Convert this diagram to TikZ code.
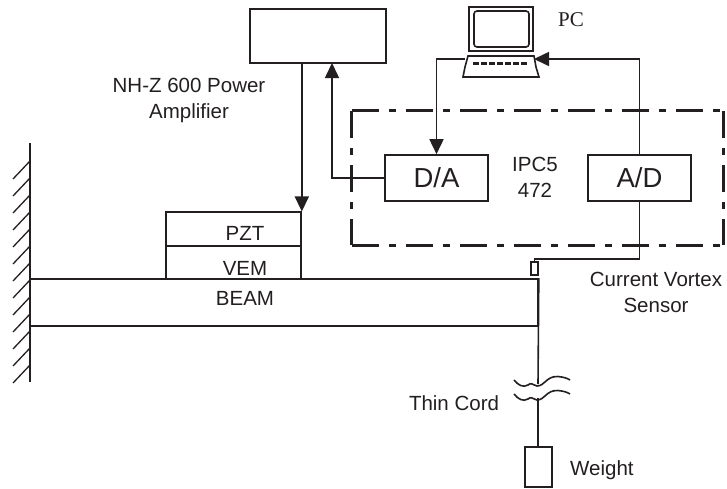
\documentclass[tikz,border=0pt]{standalone}
\usepackage{fontspec}
\setmainfont{Liberation Sans}
\newfontfamily\pcfont{Liberation Serif}
\usetikzlibrary{arrows.meta}
\definecolor{ink}{HTML}{231F20}
\tikzset{
  line/.style={ink,line width=1.6pt},
  arrow/.style={line,-{Triangle[length=15pt,width=14pt]}},
  unit/.style={line,draw,inner sep=0pt,font=\fontsize{27.5}{30}\selectfont},
  label/.style={text=ink,inner sep=0pt,font=\fontsize{20.5}{26}\selectfont,align=center},
  ipcline/.style={ink,line width=3.3pt,dash pattern=on 27pt off 10.5pt on 6.5pt off 10pt}
}

\begin{document}
\begin{tikzpicture}[x=1pt,y=-1pt]
  \useasboundingbox (0,0) rectangle (727,488);
  % amplifier and interface card
  \node[unit,minimum width=136pt,minimum height=54pt] (amp) at (318,36) {};
  \node[minimum width=371pt,minimum height=134pt,inner sep=0pt] (ipc) at (537.5,178) {};
  \node[unit,minimum width=103pt,minimum height=46pt] (da) at (436.5,178) {D/A};
  \node[unit,minimum width=103pt,minimum height=46pt] (ad) at (639.5,178) {A/D};
  \draw[ipcline] (ipc.north west) -- (ipc.north east);
  \draw[ipcline] (ipc.south west) -- (ipc.south east);
  \draw[ipcline] (ipc.north west) -- (ipc.south west);
  \draw[ipcline] (ipc.north east) -- (ipc.south east);
  % computer
  \node[line,draw,minimum width=64pt,minimum height=44pt,inner sep=0pt] (monitor) at (501,29) {};
  \node[line,draw,rounded corners=3pt,minimum width=55pt,minimum height=36pt,inner sep=0pt] (screen) at (501.5,29) {};
  \coordinate (kbl) at (465,67);
  \coordinate (kbr) at (536,67);
  \draw[line] (468,56) -- (534,56) -- (kbr) -- (539,77) -- (463,77) -- (kbl) -- cycle;
  \draw[ink,line width=3pt,dash pattern=on 6pt off 2pt] (473,63.5) -- (528,63.5);
  % beam, layers and wall
  \coordinate (wtop) at (30,143);
  \coordinate (wbot) at (30,382);
  \draw[line] (wtop) -- (wbot);
  \foreach \y in {161,178,...,366}
    \draw[ink,line width=1.3pt] (30,\y) -- (13,\y+18);
  \node[line,draw,minimum width=508pt,minimum height=47pt,inner sep=0pt] (beam) at (284,302.5) {};
  \node[line,draw,minimum width=135pt,minimum height=33.5pt,inner sep=0pt] (vem) at (233.5,262.5) {};
  \node[line,draw,minimum width=135pt,minimum height=33.5pt,inner sep=0pt] (pzt) at (233.5,229) {};
  \node[label] (beamtext) at (245,298) {BEAM};
  \node[label] (vemtext) at (245,268) {VEM};
  \node[label] (pzttext) at (245,233) {PZT};
  % signal lines
  \draw[arrow] (amp.south -| pzt.east) -- (pzt.north east);
  \draw[arrow] (da.west) -| (332,63);
  \draw[arrow] (kbl |- 0,59) -| (da.north);
  \draw[arrow] (ad.north) |- (534,59);
  \node[line,draw,minimum width=7pt,minimum height=13pt,inner sep=0pt] (sensor) at (534.5,268.5) {};
  \draw[line] (ad.south) |- (534.5,259) -- (sensor.north);
  % cord and weight
  \node[line,draw,minimum width=27pt,minimum height=40pt,inner sep=0pt] (weight) at (538.5,467) {};
  \coordinate (cordtop) at (538,384);
  \coordinate (cordbot) at (538,398);
  \draw[line] (beam.north east) -- (cordtop);
  \draw[line] (cordbot) -- (cordbot |- weight.north);
  \draw[line] (514,380) .. controls (518,385) and (523,388) .. (528,385) .. controls (531,382) and (533,385) .. (537,386) .. controls (545,386) and (546,376) .. (558,376.5) .. controls (563,377) and (567,378) .. (570,380);
  \draw[line] (514,394) .. controls (518,399) and (523,402) .. (528,399) .. controls (531,396) and (533,399) .. (537,400) .. controls (545,400) and (546,390) .. (558,390.5) .. controls (563,391) and (567,392) .. (570,394);
  % labels
  \node[label] (amptext) at (189,100) {NH-Z 600 Power\\Amplifier};
  \node[text=ink,inner sep=0pt,font=\pcfont\fontsize{21}{24}\selectfont] (pctext) at (571,20) {PC};
  \node[label] (ipctext) at (535,177) {IPC5\\472};
  \node[label] (sensortext) at (656,292) {Current Vortex\\Sensor};
  \node[label] (cordtext) at (454,403) {Thin Cord};
  \node[label,anchor=west] (weighttext) at (570,470) {Weight};
\end{tikzpicture}
\end{document}
